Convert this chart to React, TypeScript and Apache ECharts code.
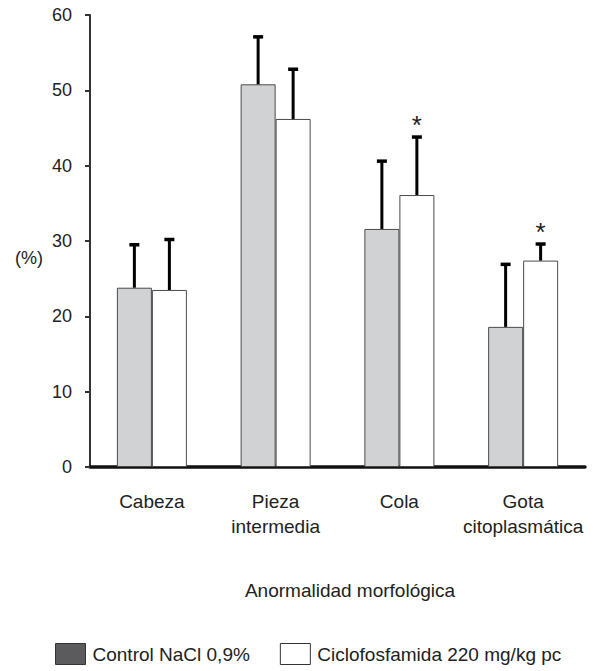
import React, { useEffect, useRef } from "react";
import * as echarts from "echarts";

const CATEGORIES = ["Cabeza", "Pieza\nintermedia", "Cola", "Gota\ncitoplasmática"];
const CONTROL = [23.8, 50.8, 31.6, 18.6];
const CONTROL_SD = [5.7, 6.3, 9.0, 8.3];
const TREATED = [23.5, 46.2, 36.1, 27.4];
const TREATED_SD = [6.7, 6.6, 7.7, 2.2];
const SIGNIFICANT = [0, 0, 1, 1];
const Y_MIN = 0;
const Y_MAX = 60;
const Y_STEP = 10;

const SERIES_CONTROL = "Control NaCl 0,9%";
const SERIES_TREATED = "Ciclofosfamida 220 mg/kg pc";

const FONT = "'Liberation Sans', Arial, Helvetica, sans-serif";
const BAR_W = 35;

function errorRenderer(offset: number) {
  return (params: any, api: any) => {
    const i = api.value(0);
    const v = api.value(1);
    const e = api.value(2);
    const s = api.value(3);
    const base = api.coord([i, v]);
    const top = api.coord([i, v + e]);
    const x = base[0] + offset;
    const children: any[] = [
      { type: "line", shape: { x1: x, y1: base[1], x2: x, y2: top[1] }, style: { stroke: "#000", lineWidth: 3 } },
      { type: "line", shape: { x1: x - 5, y1: top[1], x2: x + 5, y2: top[1] }, style: { stroke: "#000", lineWidth: 3.5 } },
    ];
    if (s) {
      children.push({
        type: "text",
        x,
        y: top[1] - 12,
        style: { text: "*", fontSize: 26, fontFamily: FONT, fill: "#222", align: "center", verticalAlign: "middle" },
      });
    }
    return { type: "group", children };
  };
}

export default function App() {
  const ref = useRef<HTMLDivElement>(null);
  useEffect(() => {
    if (!ref.current) return;
    const chart = echarts.init(ref.current, null, { renderer: "svg" });
    chart.setOption({
      animation: false,
      backgroundColor: "#fff",
      textStyle: { fontFamily: FONT },
      grid: { left: 90, right: 20, top: 15, bottom: 204, containLabel: false },
      legend: {
        left: 55,
        top: 643,
        padding: 0,
        itemWidth: 30,
        itemHeight: 21,
        itemGap: 30,
        selectedMode: false,
        textStyle: { fontSize: 19, color: "#222", fontFamily: FONT, padding: [14, 0, 0, 2] },
        data: [
          { name: SERIES_CONTROL, icon: "rect", itemStyle: { color: "#5b5b5e", borderColor: "#333", borderWidth: 1 } },
          { name: SERIES_TREATED, icon: "rect", itemStyle: { color: "#fff", borderColor: "#333", borderWidth: 1 } },
        ],
      },
      xAxis: {
        type: "category",
        data: CATEGORIES,
        axisLine: { lineStyle: { color: "#111", width: 3.5 } },
        axisTick: { show: false },
        axisLabel: { fontSize: 19, lineHeight: 25, color: "#222", margin: 22, fontFamily: FONT, interval: 0 },
        splitLine: { show: false },
      },
      yAxis: {
        type: "value",
        min: Y_MIN,
        max: Y_MAX,
        interval: Y_STEP,
        axisLine: { show: true, lineStyle: { color: "#333", width: 2 } },
        axisTick: { show: true, length: 5, lineStyle: { color: "#333", width: 2 } },
        axisLabel: { fontSize: 18, color: "#222", margin: 18, fontFamily: FONT },
        splitLine: { show: false },
      },
      graphic: [
        {
          type: "text",
          left: 15,
          top: 249,
          style: { text: "(%)", fontSize: 18, fill: "#222", fontFamily: FONT },
        },
        {
          type: "text",
          x: 350,
          y: 590,
          style: { text: "Anormalidad morfológica", fontSize: 19, fill: "#222", fontFamily: FONT, align: "center", verticalAlign: "middle" },
        },
      ],
      series: [
        {
          name: SERIES_CONTROL,
          type: "bar",
          data: CONTROL,
          barWidth: BAR_W,
          barGap: "0%",
          itemStyle: { color: "#d1d2d4", borderColor: "#4a4a4a", borderWidth: 1 },
        },
        {
          name: SERIES_TREATED,
          type: "bar",
          data: TREATED,
          barWidth: BAR_W,
          barGap: "0%",
          itemStyle: { color: "#fff", borderColor: "#4a4a4a", borderWidth: 1 },
        },
        {
          type: "custom",
          name: "errControl",
          renderItem: errorRenderer(-BAR_W / 2),
          data: CONTROL.map((v, i) => [i, v, CONTROL_SD[i], 0]),
          encode: { x: 0, y: 1 },
          z: 5,
        },
        {
          type: "custom",
          name: "errTreated",
          renderItem: errorRenderer(BAR_W / 2),
          data: TREATED.map((v, i) => [i, v, TREATED_SD[i], SIGNIFICANT[i]]),
          encode: { x: 0, y: 1 },
          z: 5,
        },
      ],
    });
    return () => chart.dispose();
  }, []);
  return <div ref={ref} style={{ position: "absolute", left: 0, top: 0, width: 605, height: 671 }} />;
}
